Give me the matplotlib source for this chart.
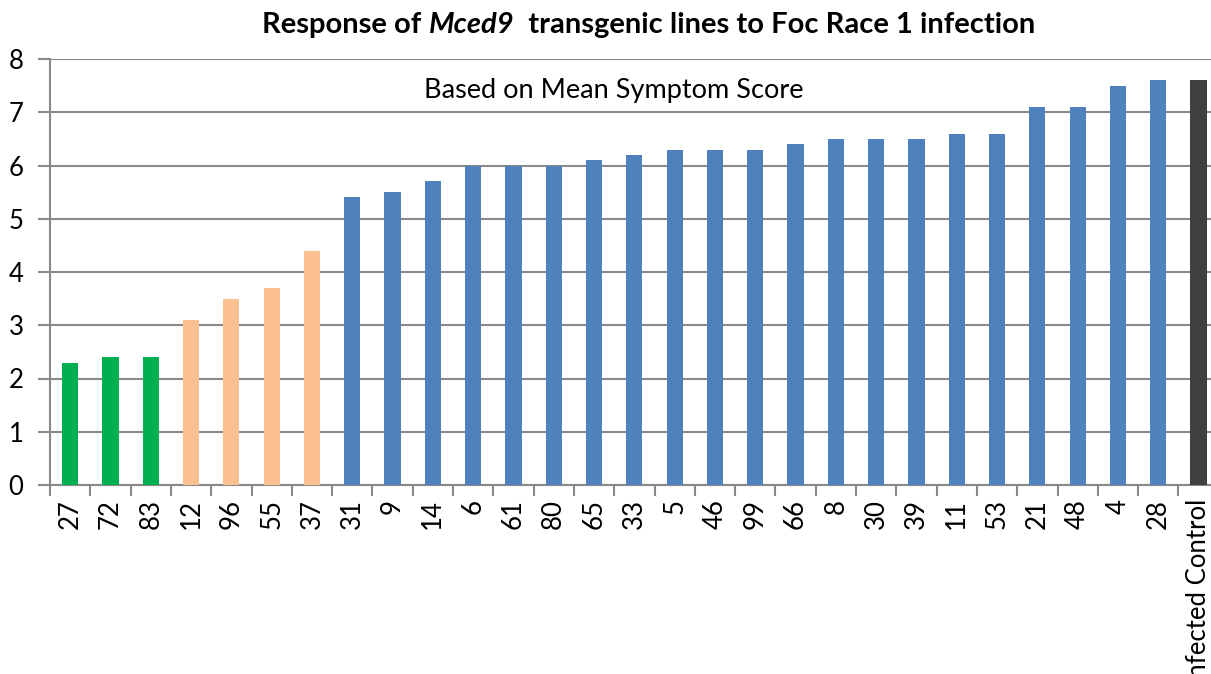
import numpy as np
import matplotlib
matplotlib.use("Agg")
import matplotlib.pyplot as plt

plt.rcParams['font.family'] = ['Lato', 'DejaVu Sans']

# data
lines = ["27", "72", "83", "12", "96", "55", "37", "31", "9", "14", "6", "61", "80",
         "65", "33", "5", "46", "99", "66", "8", "30", "39", "11", "53", "21", "48",
         "4", "28", "Infected Control"]
scores = [2.3, 2.4, 2.4, 3.1, 3.5, 3.7, 4.4, 5.4, 5.5, 5.7, 6.0, 6.0, 6.0,
          6.1, 6.2, 6.3, 6.3, 6.3, 6.4, 6.5, 6.5, 6.5, 6.6, 6.6, 7.1, 7.1,
          7.5, 7.6, 7.6]
groups = ["resistant"] * 3 + ["moderate"] * 4 + ["susceptible"] * 21 + ["control"]
group_colors = {"resistant": "#00B050", "moderate": "#FAC090",
                "susceptible": "#4F81BD", "control": "#404040"}

W, H = 1211, 674
fig = plt.figure(figsize=(W / 100, H / 100), dpi=100)
ax = fig.add_axes([50 / W, 189 / H, 1168.7 / W, 426 / H])

x = np.arange(len(lines))
ax.bar(x, scores, width=0.4, color=[group_colors[g] for g in groups], zorder=3)

ax.set_xlim(-0.5, len(lines) - 0.5)
ax.set_ylim(0, 8)
ax.set_yticks(range(0, 9))
ax.yaxis.grid(True, color="#898989", linewidth=1.5, zorder=0)
ax.tick_params(axis="y", length=9, width=1.5, color="#898989", labelsize=18.5, pad=10)

ax.set_xticks(x)
ax.set_xticklabels(lines, rotation=90, va="top", ha="center")
ax.tick_params(axis="x", length=0, labelsize=18.5, pad=10)
ax.set_xticks(np.arange(-0.5, len(lines), 1), minor=True)
ax.tick_params(axis="x", which="minor", length=8, width=1.5, color="#898989")

for s in ["top", "right"]:
    ax.spines[s].set_visible(False)
for s in ["left", "bottom"]:
    ax.spines[s].set_color("#898989")
    ax.spines[s].set_linewidth(1.5)

ax.text(0.482, 0.925, "Based on Mean Symptom Score", transform=ax.transAxes,
        ha="center", va="center", fontsize=19.5)

# title with italic gene name, pieced together
parts = [("Response of ", "normal"), ("Mced9", "italic"),
         ("  transgenic lines to Foc Race 1 infection", "normal")]
fig.canvas.draw()
renderer = fig.canvas.get_renderer()
texts = []
for s, style in parts:
    t = fig.text(0, 1 - 25 / H, s, fontsize=21, fontweight="bold", style=style,
                 va="center", ha="left")
    texts.append(t)
widths = []
for t in texts:
    widths.append(t.get_window_extent(renderer).width)
start = 649 - sum(widths) / 2
for t, w in zip(texts, widths):
    t.set_x(start / W)
    start += w

fig.savefig("out.png", dpi=100)
